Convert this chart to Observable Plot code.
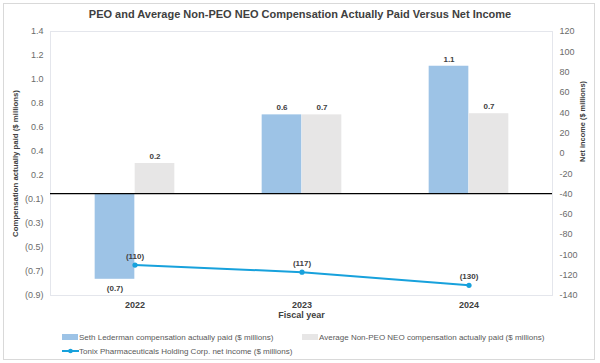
<!DOCTYPE html>
<html>
<head>
<meta charset="utf-8">
<script src="https://cdn.jsdelivr.net/npm/d3@7"></script>
<script src="https://cdn.jsdelivr.net/npm/@observablehq/plot@0.6"></script>
<style>
  html, body { margin: 0; padding: 0; background: #fff; }
  #wrap { position: relative; width: 600px; height: 363px; font-family: "Liberation Sans", Arial, sans-serif; overflow: hidden; }
  #frame { position: absolute; left: 3px; top: 3px; width: 592px; height: 357px; border: 1px solid #d9d9d9; box-sizing: border-box; }
  #title { position: absolute; left: 0; top: 8px; width: 600px; text-align: center; font-weight: bold; font-size: 11px; color: #404040; white-space: nowrap; }
  #chart { position: absolute; left: 0; top: 0; }
  .leg { position: absolute; font-size: 8px; color: #595959; white-space: nowrap; display: flex; align-items: center; height: 10px; }
  .sw { display: inline-block; width: 16px; height: 6px; margin-right: 1px; }
</style>
</head>
<body>
<div id="wrap">
  <div id="frame"></div>
  <div id="chart"></div>
  <div id="title"></div>
  <div id="legend"></div>
</div>
<script>
const titleText = "PEO and Average Non-PEO NEO Compensation Actually Paid Versus Net Income";
const years = ["2022", "2023", "2024"];
const sethValues = [-0.74, 0.68, 1.10];
const sethLabels = ["(0.7)", "0.6", "1.1"];
const neoValues = [0.26, 0.68, 0.69];
const neoLabels = ["0.2", "0.7", "0.7"];
const netIncome = [-110, -117, -130];
const netIncomeLabels = ["(110)", "(117)", "(130)"];
const leftDomain = [-0.88, 1.4];
const leftTickLabels = ["1.4", "1.2", "1.0", "0.8", "0.6", "0.4", "0.2", "(0.1)", "(0.3)", "(0.5)", "(0.7)", "(0.9)"];
const rightDomain = [-140, 120];
const rightTicks = [120, 100, 80, 60, 40, 20, 0, -20, -40, -60, -80, -100, -120, -140];
const seriesNames = [
  "Seth Lederman compensation actually paid ($ millions)",
  "Average Non-PEO NEO compensation actually paid ($ millions)",
  "Tonix Pharmaceuticals Holding Corp. net income ($ millions)"
];
const colors = ["#9dc3e6", "#e7e6e6", "#17a1dc"];
const xTitle = "Fiscal year";
const yLeftTitle = "Compensation actually paid ($ millions)";
const yRightTitle = "Net income ($ millions)";

// map right-axis (net income) values into left-axis units
const toLeft = v => leftDomain[0] + (v - rightDomain[0]) * (leftDomain[1] - leftDomain[0]) / (rightDomain[1] - rightDomain[0]);

const nL = leftTickLabels.length;
const leftTickPos = leftTickLabels.map((_, i) => leftDomain[1] - i * (leftDomain[1] - leftDomain[0]) / (nL - 1));
const leftLabelMap = new Map(leftTickPos.map((p, i) => [p, leftTickLabels[i]]));
const rightTickPos = rightTicks.map(toLeft);
const rightLabelMap = new Map(rightTickPos.map((p, i) => [p, String(rightTicks[i])]));

const seth = years.map((y, i) => ({year: y, value: sethValues[i], label: sethLabels[i]}));
const neo = years.map((y, i) => ({year: y, value: neoValues[i], label: neoLabels[i]}));
const net = years.map((y, i) => ({year: y, value: toLeft(netIncome[i]), label: netIncomeLabels[i]}));

const W = 600, H = 363;
const mL = 50, mR = 48, mT = 31, mB = 68;
const band = (W - mL - mR) / years.length;
const barW = 40;
const inA = band / 2 - barW, inB = band / 2;
const labStyle = {fontWeight: "bold", fontSize: 8, fill: "#404040"};

const plot = Plot.plot({
  width: W, height: H,
  marginLeft: mL, marginRight: mR, marginTop: mT, marginBottom: mB,
  style: {fontFamily: "'Liberation Sans', Arial, sans-serif", fontSize: "9px", background: "transparent"},
  x: {type: "band", domain: years, padding: 0, axis: null},
  y: {domain: leftDomain, axis: null},
  marks: [
    Plot.frame({stroke: "#e4e6ec"}),
    Plot.barY(seth, {x: "year", y: "value", fill: colors[0], insetLeft: inA, insetRight: inB}),
    Plot.barY(neo, {x: "year", y: "value", fill: colors[1], insetLeft: inB, insetRight: inA}),
    Plot.ruleY([0], {stroke: "#000", strokeWidth: 1.4}),
    Plot.text(seth.filter(d => d.value >= 0), {x: "year", y: "value", text: "label", dx: -barW / 2, dy: -7, ...labStyle}),
    Plot.text(seth.filter(d => d.value < 0), {x: "year", y: "value", text: "label", dx: -barW / 2, dy: 9, ...labStyle}),
    Plot.text(neo, {x: "year", y: "value", text: "label", dx: barW / 2, dy: -7, ...labStyle}),
    Plot.line(net, {x: "year", y: "value", stroke: colors[2], strokeWidth: 2}),
    Plot.dot(net, {x: "year", y: "value", fill: colors[2], r: 2.6}),
    Plot.text(net, {x: "year", y: "value", text: "label", dy: -9, ...labStyle}),
    Plot.axisX({tickSize: 0, tickPadding: 6, fontWeight: "bold", fill: "#404040", fontSize: 9, label: null}),
    Plot.axisY({ticks: leftTickPos, tickFormat: d => leftLabelMap.get(d), tickSize: 0, tickPadding: 7, fill: "#6b6b6b", label: null}),
    Plot.axisY({anchor: "right", ticks: rightTickPos, tickFormat: d => rightLabelMap.get(d), tickSize: 0, tickPadding: 7, fill: "#6b6b6b", label: null}),
    Plot.text([xTitle], {frameAnchor: "bottom", dy: 22, fontWeight: "bold", fill: "#404040", fontSize: 9}),
    Plot.text([yLeftTitle], {frameAnchor: "left", textAnchor: "middle", dx: -35, dy: 0, rotate: -90, fontWeight: "bold", fill: "#404040", fontSize: 7.8}),
    Plot.text([yRightTitle], {frameAnchor: "right", textAnchor: "middle", dx: 30, dy: -42, rotate: -90, fontWeight: "bold", fill: "#404040", fontSize: 7.4})
  ]
});
document.getElementById("chart").appendChild(plot);
document.getElementById("title").textContent = titleText;

const legend = document.getElementById("legend");
function addLeg(x, y, swatchHtml, text) {
  const d = document.createElement("div");
  d.className = "leg";
  d.style.left = x + "px";
  d.style.top = (y - 5) + "px";
  d.innerHTML = swatchHtml;
  const s = document.createElement("span");
  s.textContent = text;
  d.appendChild(s);
  legend.appendChild(d);
}
addLeg(62, 337, `<span class="sw" style="background:${colors[0]}"></span>`, seriesNames[0]);
addLeg(302, 337, `<span class="sw" style="background:${colors[1]}"></span>`, seriesNames[1]);
addLeg(62, 351, `<svg width="17" height="8" style="margin-right:0px"><line x1="0" y1="4" x2="17" y2="4" stroke="${colors[2]}" stroke-width="2"/><circle cx="8.5" cy="4" r="2.3" fill="${colors[2]}"/></svg>`, seriesNames[2]);
</script>
</body>
</html>
